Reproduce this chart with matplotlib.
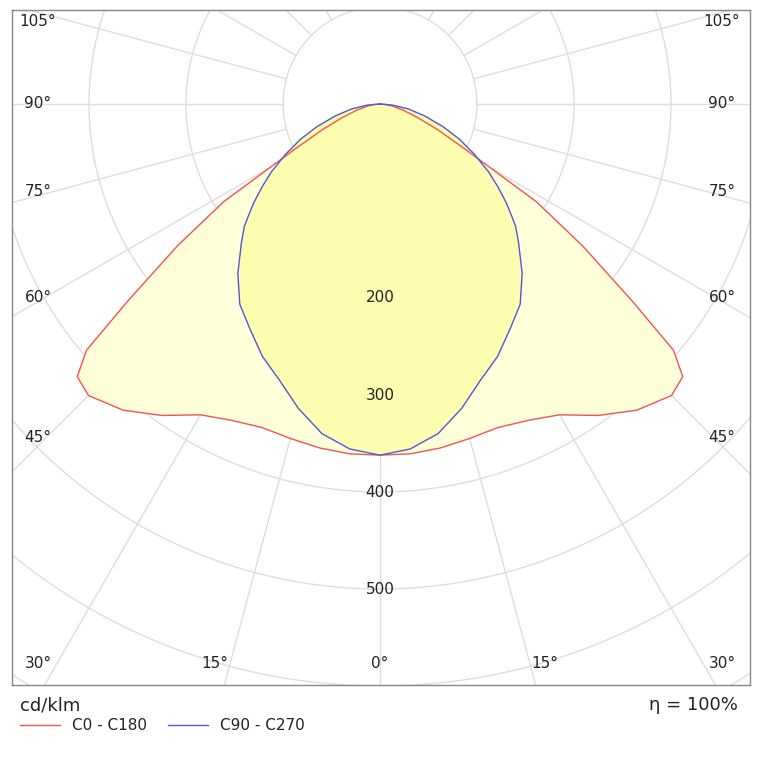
import numpy as np
import matplotlib
matplotlib.use("Agg")
import matplotlib.pyplot as plt

gamma = [0, 5, 10, 15, 20, 25, 30, 35, 40, 45, 48, 50, 52, 55, 58, 62, 66, 70, 75, 80, 85, 90]
c0_c180 = [362, 362, 360, 357, 355, 360, 370, 392, 412, 425, 420, 395, 330, 255, 190, 100, 65, 42, 25, 14, 6, 0]
c90_c270 = [362, 357, 345, 325, 303, 287, 268, 252, 228, 202, 188, 176, 165, 148, 132, 110, 90, 70, 48, 30, 13, 0]
rings = [100, 200, 300, 400, 500, 600, 700, 800]
ring_labels = ["200", "300", "400", "500"]

S = 0.97  # px per cd
CX, CY = 380, 104
def px(x, y):
    return ((x - CX) / S, (CY - y) / S)

fig = plt.figure(figsize=(7.67, 7.67), dpi=100)
ax = fig.add_axes([12/767, (767-685)/767, 738/767, 675/767])
x0, y1 = px(12, 10); x1, y0 = px(750, 685)
ax.set_xlim(x0, x1); ax.set_ylim(y0, y1)
ax.set_xticks([]); ax.set_yticks([])
for s in ax.spines.values():
    s.set_color("#888888"); s.set_linewidth(1)

t = np.linspace(0, 2*np.pi, 400)
for r in rings:
    ax.plot(r*np.cos(t), r*np.sin(t), color="#dddddd", lw=1, zorder=1)
for a in range(0, 360, 15):
    th = np.radians(a)
    ax.plot([100*np.sin(th), 1200*np.sin(th)], [-100*np.cos(th), -1200*np.cos(th)], color="#dddddd", lw=1, zorder=1)

def curve(vals):
    g = np.radians(np.array(gamma, float)); v = np.array(vals, float)
    gg = np.concatenate([-g[::-1], g[1:]]); vv = np.concatenate([v[::-1], v[1:]])
    return vv*np.sin(gg), -vv*np.cos(gg)

xr, yr = curve(c0_c180)
xb, yb = curve(c90_c270)
ax.fill(xr, yr, color="#fefed8", zorder=2)
ax.fill(xb, yb, color="#fdfdb0", zorder=3)
ax.plot(xr, yr, color="#ee5555", lw=1, zorder=4)
ax.plot(xb, yb, color="#5555dd", lw=1, zorder=5)

for i, lab in enumerate(ring_labels):
    ax.text(0, -(200 + 100*i), lab, ha="center", va="center", fontsize=11, color="#222222", zorder=6)

side = [("105°", 22), ("90°", 104), ("75°", 192), ("60°", 297), ("45°", 437), ("30°", 663)]
for lab, y in side:
    ax.text(*px(38, y), lab, ha="center", va="center", fontsize=11, color="#222222", zorder=6)
    ax.text(*px(722, y), lab, ha="center", va="center", fontsize=11, color="#222222", zorder=6)
for lab, x in [("15°", 215), ("0°", 380), ("15°", 545)]:
    ax.text(*px(x, 663), lab, ha="center", va="center", fontsize=11, color="#222222", zorder=6)

fig.text(20/767, 1-705/767, "cd/klm", fontsize=13, va="center", color="#222222")
fig.text(738/767, 1-705/767, "η = 100%", fontsize=13, va="center", ha="right", color="#222222")
fig.lines.append(plt.Line2D([20/767, 60/767], [1-725/767]*2, color="#ee5555", lw=1, transform=fig.transFigure))
fig.text(72/767, 1-725/767, "C0 - C180", fontsize=11, va="center", color="#222222")
fig.lines.append(plt.Line2D([168/767, 208/767], [1-725/767]*2, color="#5555dd", lw=1, transform=fig.transFigure))
fig.text(220/767, 1-725/767, "C90 - C270", fontsize=11, va="center", color="#222222")
fig.savefig("out.png", dpi=100, facecolor="white")
